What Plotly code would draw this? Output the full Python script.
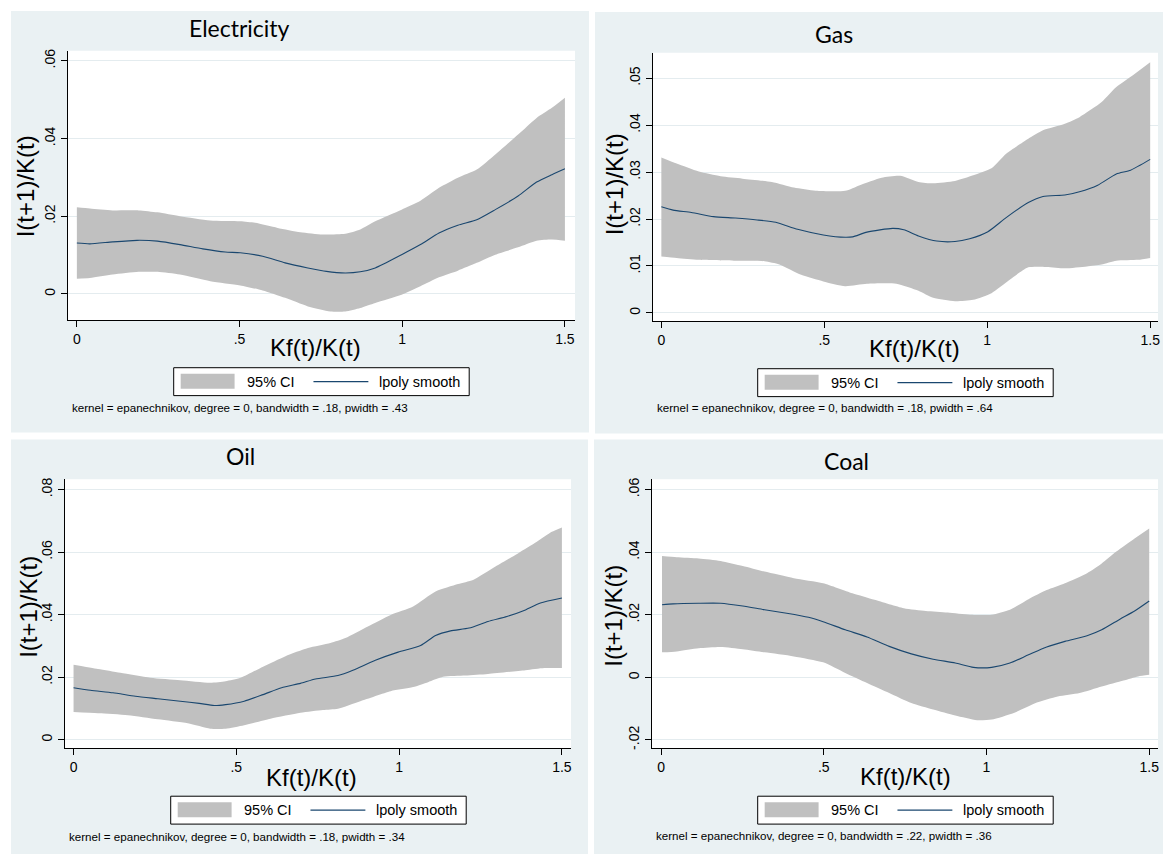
import plotly.graph_objects as go

W, H = 1165, 855

# ---------------- data ----------------
x_tick_vals = [0, 0.5, 1, 1.5]
x_tick_text = ["0", ".5", "1", "1.5"]

elec_y_ticks = [0, 0.02, 0.04, 0.06]
elec_y_text = ["0", ".02", ".04", ".06"]
elec_x = [0, .04, .11, .185, .248, .317, .387, .456, .502, .571, .64, .71, .767, .825, .871, .917,
          .998, 1.056, 1.113, 1.171, 1.229, 1.286, 1.356, 1.413, 1.46, 1.5]
elec_fit = [.0131, .0129, .0134, .0138, .0136, .0127, .0116, .0108, .0106, .0097, .0080, .0067, .0058,
            .0054, .0057, .0067, .0101, .0127, .0157, .0177, .0191, .0217, .0252, .0288, .0307, .0322]
elec_hi_x = [0, .04, .11, .19, .248, .317, .41, .502, .548, .617, .687, .756, .825, .871, .917, .998,
             1.056, 1.113, 1.171, 1.229, 1.286, 1.356, 1.413, 1.46, 1.5]
elec_hi = [.0223, .022, .0215, .0215, .021, .020, .0189, .0187, .0183, .017, .0159, .0153, .0155, .0166,
           .0187, .0217, .024, .0273, .0299, .032, .0359, .041, .0453, .0479, .0505]
elec_lo_x = [0, .04, .11, .19, .248, .317, .41, .502, .571, .64, .71, .779, .825, .871, .917, .998,
             1.056, 1.113, 1.171, 1.229, 1.286, 1.356, 1.413, 1.46, 1.5]
elec_lo = [.0039, .0041, .005, .0057, .0057, .005, .0033, .0022, .0009, -.001, -.0032, -.0045, -.0045,
           -.0036, -.0023, -.0002, .002, .0043, .006, .008, .0101, .012, .0137, .014, .0137]

gas_y_ticks = [0, 0.01, 0.02, 0.03, 0.04, 0.05]
gas_y_text = ["0", ".01", ".02", ".03", ".04", ".05"]
gas_x = [0, .036, .092, .16, .227, .294, .351, .418, .497, .564, .587, .631, .71, .744, .789, .845, .901,
         .946, 1.002, 1.058, 1.126, 1.171, 1.238, 1.283, 1.339, 1.396, 1.44, 1.5]
gas_fit = [.0226, .0219, .0214, .0205, .0202, .0198, .0193, .0178, .0166, .0161, .0162, .0172, .018, .0177,
           .0164, .0153, .0152, .0158, .0173, .0203, .0235, .0248, .0251, .0258, .0272, .0296, .0304, .0327]
gas_hi_x = [0, .047, .115, .182, .249, .339, .407, .474, .564, .609, .676, .733, .789, .834, .901, .957,
            1.013, 1.058, 1.126, 1.171, 1.238, 1.283, 1.351, 1.396, 1.452, 1.5]
gas_hi = [.0331, .0318, .0301, .0291, .0286, .0279, .0267, .026, .026, .0272, .0288, .0292, .0279, .0276,
          .0281, .0293, .0308, .0339, .0371, .0389, .0403, .0417, .0449, .0481, .0509, .0534]
gas_lo_x = [0, .047, .115, .227, .317, .362, .429, .497, .564, .631, .721, .789, .834, .901, .957, 1.013,
            1.07, 1.126, 1.182, 1.238, 1.306, 1.351, 1.396, 1.463, 1.5]
gas_lo = [.012, .0117, .0113, .0111, .011, .0103, .0081, .0067, .0057, .0062, .0062, .0047, .0032, .0025,
          .0028, .0042, .0071, .0097, .0098, .0095, .0099, .0103, .0111, .0113, .0117]

oil_y_ticks = [0, 0.02, 0.04, 0.06, 0.08]
oil_y_text = ["0", ".02", ".04", ".06", ".08"]
oil_x = [0, .052, .121, .19, .259, .328, .386, .432, .467, .524, .582, .639, .697, .743, .812, .858, .927,
         .997, 1.066, 1.112, 1.158, 1.215, 1.273, 1.331, 1.388, 1.434, 1.5]
oil_fit = [.0166, .0158, .015, .0139, .0131, .0123, .0116, .0109, .0112, .0123, .0144, .0166, .018, .0194,
           .0205, .0222, .0254, .028, .0301, .0333, .0348, .0357, .0378, .0394, .0415, .0437, .0453]
oil_hi_x = [0, .075, .144, .236, .328, .42, .467, .513, .582, .651, .72, .789, .835, .904, .974, 1.043,
            1.112, 1.181, 1.227, 1.296, 1.365, 1.423, 1.469, 1.5]
oil_hi = [.024, .0226, .0214, .0198, .019, .0182, .0187, .0198, .0233, .0267, .0293, .0309, .0325, .0362,
          .0399, .0426, .0474, .0498, .0511, .0554, .0596, .0633, .0665, .0679]
oil_lo_x = [0, .075, .167, .259, .351, .42, .467, .524, .605, .697, .766, .812, .881, .974, 1.043, 1.089,
            1.135, 1.204, 1.273, 1.388, 1.446, 1.5]
oil_lo = [.0088, .0084, .0078, .0065, .0052, .0035, .0035, .0046, .0067, .0086, .0095, .0099, .0123, .0155,
          .0168, .0184, .0201, .0205, .021, .0222, .0229, .0229]

coal_y_ticks = [-0.02, 0, 0.02, 0.04, 0.06]
coal_y_text = ["-.02", "0", ".02", ".04", ".06"]
coal_x = [.003, .037, .116, .183, .251, .318, .386, .453, .498, .566, .633, .701, .769, .836, .904, .96,
          1.016, 1.072, 1.129, 1.185, 1.241, 1.309, 1.354, 1.41, 1.455, 1.5]
coal_fit = [.0232, .0235, .0237, .0237, .0228, .0216, .0205, .0192, .0178, .0152, .0129, .0099, .0075,
            .0058, .0046, .0032, .0032, .0046, .0072, .0097, .0115, .0133, .0152, .0186, .0212, .0244]
coal_hi_x = [.003, .048, .116, .183, .251, .318, .408, .498, .588, .656, .746, .814, .881, .949, 1.016,
             1.072, 1.129, 1.185, 1.241, 1.309, 1.354, 1.399, 1.455, 1.5]
coal_hi = [.0388, .0384, .038, .0372, .0356, .0338, .0317, .0301, .0269, .0248, .0221, .0212, .0207, .02,
           .02, .0216, .025, .0279, .0301, .0333, .0364, .0402, .0444, .0476]
coal_lo_x = [.003, .048, .116, .183, .251, .318, .408, .498, .566, .633, .701, .769, .836, .904, .971,
             1.016, 1.084, 1.151, 1.219, 1.286, 1.354, 1.421, 1.466, 1.5]
coal_lo = [.008, .0083, .0093, .0097, .009, .008, .0067, .0048, .0014, -.0018, -.005, -.0082, -.0103,
           -.0122, -.0137, -.0135, -.0114, -.0082, -.0061, -.005, -.0029, -.001, .0003, .0008]

titles = ["Electricity", "Gas", "Oil", "Coal"]
notes = [
    "kernel = epanechnikov, degree = 0, bandwidth = .18, pwidth = .43",
    "kernel = epanechnikov, degree = 0, bandwidth = .18, pwidth = .64",
    "kernel = epanechnikov, degree = 0, bandwidth = .18, pwidth = .34",
    "kernel = epanechnikov, degree = 0, bandwidth = .22, pwidth = .36",
]
y_title = "I(t+1)/K(t)"
x_title = "Kf(t)/K(t)"
legend_labels = ["95% CI", "lpoly smooth"]

# ---------------- style / layout ----------------
BG = "#EAF1F3"
CI = "#C0C0C0"
NAVY = "#1A476F"
GRID = "#E4ECEF"
STATA_FONT = "Liberation Sans"
TITLE_FONT = "Lato"

panels = [
    dict(data=(elec_x, elec_fit, elec_hi_x, elec_hi, elec_lo_x, elec_lo), yt=(elec_y_ticks, elec_y_text),
         bg=(11, 9, 590, 432), plot=(68, 49, 576, 319), xr=[-0.0276, 1.531], yr=[-0.00667, 0.06256],
         title=(240, 26), xt=(316, 347), ytc=(25, 185), leg=(174, 367), note=(70, 407)),
    dict(data=(gas_x, gas_fit, gas_hi_x, gas_hi, gas_lo_x, gas_lo), yt=(gas_y_ticks, gas_y_text),
         bg=(596, 10, 1165, 433), plot=(654, 51, 1160, 320), xr=[-0.026, 1.524], yr=[-0.0017, 0.0554],
         title=(835, 32), xt=(916, 348), ytc=(615, 183), leg=(759, 368), note=(656, 407)),
    dict(data=(oil_x, oil_fit, oil_hi_x, oil_hi, oil_lo_x, oil_lo), yt=(oil_y_ticks, oil_y_text),
         bg=(11, 439, 589, 855), plot=(65, 479, 572, 749), xr=[-0.0266, 1.528], yr=[-0.0028, 0.0833],
         title=(241, 456), xt=(312, 778), ytc=(29, 607), leg=(171, 797), note=(67, 837)),
    dict(data=(coal_x, coal_fit, coal_hi_x, coal_hi, coal_lo_x, coal_lo), yt=(coal_y_ticks, coal_y_text),
         bg=(595, 439, 1165, 855), plot=(653, 479, 1160, 749), xr=[-0.0282, 1.527], yr=[-0.0227, 0.0633],
         title=(848, 461), xt=(907, 777), ytc=(615, 616), leg=(759, 797), note=(655, 836)),
]


def fx(px):
    return px / W


def fy(py):
    return 1 - py / H


fig = go.Figure()
shapes = []
annotations = []
layout_axes = {}

for i, p in enumerate(panels):
    k = "" if i == 0 else str(i + 1)
    xa, ya = "x" + k, "y" + k
    xs, fit, hx, hi, lx, lo = p["data"]

    # CI band
    fig.add_trace(go.Scatter(x=lx, y=lo, xaxis=xa, yaxis=ya, mode="lines",
                             line=dict(width=0, color=CI, shape="spline", smoothing=0.6),
                             showlegend=False, hoverinfo="skip"))
    fig.add_trace(go.Scatter(x=hx, y=hi, xaxis=xa, yaxis=ya, mode="lines", fill="tonexty",
                             fillcolor=CI, line=dict(width=0, color=CI, shape="spline", smoothing=0.6),
                             name=legend_labels[0], showlegend=False))
    # smooth line
    fig.add_trace(go.Scatter(x=xs, y=fit, xaxis=xa, yaxis=ya, mode="lines",
                             line=dict(width=1.1, color=NAVY, shape="spline", smoothing=0.6),
                             name=legend_labels[1], showlegend=False))

    x0, y0, x1, y1 = p["plot"]
    common = dict(ticks="outside", ticklen=6, tickwidth=1, tickcolor="black", showline=True,
                  linecolor="black", linewidth=1, zeroline=False,
                  tickfont=dict(family=STATA_FONT, size=14, color="black"))
    layout_axes["xaxis" + k] = dict(domain=[fx(x0), fx(x1)], range=p["xr"], anchor=ya,
                                    tickvals=x_tick_vals, ticktext=x_tick_text, showgrid=False, **common)
    layout_axes["yaxis" + k] = dict(domain=[fy(y1), fy(y0)], range=p["yr"], anchor=xa,
                                    tickvals=p["yt"][0], ticktext=p["yt"][1], tickangle=-90,
                                    showgrid=True, gridcolor=GRID, gridwidth=1, **common)

    # panel background and white plot region
    bx0, by0, bx1, by1 = p["bg"]
    shapes.append(dict(type="rect", xref="paper", yref="paper", x0=fx(bx0), x1=fx(bx1),
                       y0=fy(by1), y1=fy(by0), fillcolor=BG, line=dict(width=0), layer="below"))
    shapes.append(dict(type="rect", xref=xa + " domain", yref=ya + " domain", x0=0, x1=1, y0=0, y1=1,
                       fillcolor="white", line=dict(width=0), layer="below"))

    # legend (Stata-style box below the plot)
    lx0, ly0 = p["leg"]
    shapes.append(dict(type="rect", xref="paper", yref="paper", x0=fx(lx0), x1=fx(lx0 + 296),
                       y0=fy(ly0 + 28), y1=fy(ly0), fillcolor="white", line=dict(color="black", width=1)))
    shapes.append(dict(type="rect", xref="paper", yref="paper", x0=fx(lx0 + 7), x1=fx(lx0 + 61),
                       y0=fy(ly0 + 21), y1=fy(ly0 + 6), fillcolor=CI, line=dict(width=0)))
    shapes.append(dict(type="line", xref="paper", yref="paper", x0=fx(lx0 + 140), x1=fx(lx0 + 195),
                       y0=fy(ly0 + 14), y1=fy(ly0 + 14), line=dict(color=NAVY, width=1.1)))
    annotations.append(dict(text=legend_labels[0], x=fx(lx0 + 71), y=fy(ly0 + 14), xref="paper",
                            yref="paper", xanchor="left", yanchor="middle", showarrow=False,
                            font=dict(family=STATA_FONT, size=14.5, color="black")))
    annotations.append(dict(text=legend_labels[1], x=fx(lx0 + 204), y=fy(ly0 + 14), xref="paper",
                            yref="paper", xanchor="left", yanchor="middle", showarrow=False,
                            font=dict(family=STATA_FONT, size=14.5, color="black")))

    # titles and notes
    tx, ty = p["title"]
    annotations.append(dict(text=titles[i], x=fx(tx), y=fy(ty), xref="paper", yref="paper",
                            xanchor="center", yanchor="middle", showarrow=False,
                            font=dict(family=TITLE_FONT, size=23, color="black")))
    ax_, ay_ = p["xt"]
    annotations.append(dict(text=x_title, x=fx(ax_), y=fy(ay_), xref="paper", yref="paper",
                            xanchor="center", yanchor="middle", showarrow=False,
                            font=dict(family=STATA_FONT, size=24, color="black")))
    yx, yy = p["ytc"]
    annotations.append(dict(text=y_title, x=fx(yx), y=fy(yy), xref="paper", yref="paper",
                            xanchor="center", yanchor="middle", textangle=-90, showarrow=False,
                            font=dict(family=STATA_FONT, size=24, color="black")))
    nx, ny = p["note"]
    annotations.append(dict(text=notes[i], x=fx(nx), y=fy(ny), xref="paper", yref="paper",
                            xanchor="left", yanchor="middle", showarrow=False,
                            font=dict(family=STATA_FONT, size=11.6, color="black")))

fig.update_layout(
    width=W, height=H, autosize=False,
    margin=dict(l=0, r=0, t=0, b=0, pad=0),
    paper_bgcolor="white", plot_bgcolor="white",
    showlegend=False,
    shapes=shapes, annotations=annotations,
    **layout_axes,
)

fig.write_html("out.html", config={"displayModeBar": False},
               post_script="document.body.style.margin='0px';")
